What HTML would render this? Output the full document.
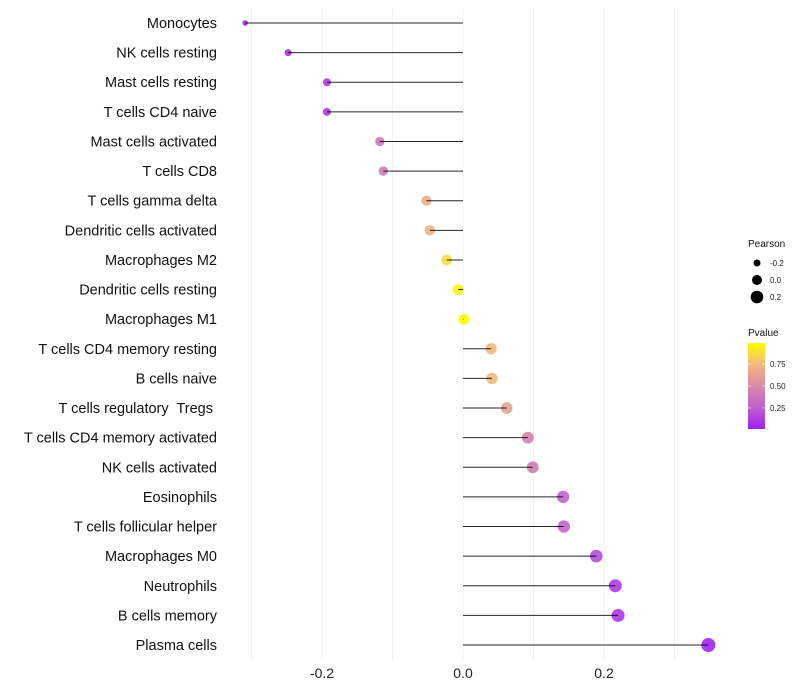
<!DOCTYPE html>
<html><head><meta charset="utf-8"><style>
html,body{margin:0;padding:0;background:#fff;}
svg{display:block;font-family:"Liberation Sans",sans-serif;}
text{white-space:pre;}
</style></head><body>
<svg id="chart" width="800" height="700"></svg>
<script>
const categories=["Monocytes","NK cells resting","Mast cells resting","T cells CD4 naive","Mast cells activated","T cells CD8","T cells gamma delta","Dendritic cells activated","Macrophages M2","Dendritic cells resting","Macrophages M1","T cells CD4 memory resting","B cells naive","T cells regulatory  Tregs ","T cells CD4 memory activated","NK cells activated","Eosinophils","T cells follicular helper","Macrophages M0","Neutrophils","B cells memory","Plasma cells"];
const pearson=[-0.309,-0.248,-0.193,-0.193,-0.118,-0.113,-0.052,-0.047,-0.023,-0.007,0.001,0.040,0.041,0.062,0.092,0.099,0.142,0.143,0.189,0.216,0.220,0.348];
const pvalues=[0.02,0.05,0.1,0.1,0.4,0.4,0.7,0.72,0.87,0.97,0.99,0.75,0.75,0.63,0.45,0.42,0.28,0.28,0.17,0.1,0.09,0.01];
const xTicks=[-0.2,0.0,0.2];
const xTickLabels=["-0.2","0.0","0.2"];
const sizeLegend=[-0.2,0.0,0.2];
const colorTicks=[0.25,0.5,0.75];

const NS="http://www.w3.org/2000/svg";
const svg=document.getElementById('chart');
function mk(t,a,p){const e=document.createElementNS(NS,t);for(const k in a)e.setAttribute(k,a[k]);(p||svg).appendChild(e);return e;}
const xs=v=>463+v*705;
const ys=i=>23+i*(622/21);
const rs=v=>Math.sqrt(Math.max(4,30+(v<0?72:55)*v));
const stops=[[0,[160,32,240]],[0.25,[192,96,208]],[0.5,[216,138,168]],[0.75,[240,184,128]],[1,[255,255,0]]];
function col(p){for(let i=1;i<stops.length;i++){if(p<=stops[i][0]){const a=stops[i-1],b=stops[i],t=(p-a[0])/(b[0]-a[0]);const c=a[1].map((v,k)=>Math.round(v+(b[1][k]-v)*t));return `rgb(${c})`;}}return 'rgb(255,255,0)';}

[-0.3,-0.2,-0.1,0,0.1,0.2,0.3].forEach(v=>{
  const g=mk('line',{x1:xs(v),x2:xs(v),y1:8,y2:660,stroke:'#f0f0f0','stroke-width':1});
  
  
});
xTicks.forEach((v,i)=>{
  const t=mk('text',{x:xs(v),y:678,'text-anchor':'middle','font-size':14,fill:'#222'});
  t.textContent=xTickLabels[i];
  
  
});
categories.forEach((c,i)=>{
  const y=ys(i);
  const l=mk('text',{x:217,y:y+5,'text-anchor':'end','font-size':14.5,fill:'#111'});
  l.textContent=c;
  
  
  const d=mk('circle',{cx:xs(pearson[i]),cy:y,r:rs(pearson[i]),fill:col(pvalues[i]),'fill-opacity':0.9});
  
  
  const s2=mk('line',{x1:xs(0),x2:xs(pearson[i]),y1:y,y2:y,stroke:'#000','stroke-width':1,'stroke-opacity':0.85});
  
  
});
const lt=mk('text',{x:748,y:247,'font-size':10,fill:'#111'});lt.textContent='Pearson';


sizeLegend.forEach((v,i)=>{
  const y=263+i*17;
  const c=mk('circle',{cx:757,cy:y,r:[3.5,5,6.3][i],fill:'#000'});
  
  
  const t=mk('text',{x:770,y:y+3,'font-size':8,fill:'#222'});t.textContent=v.toFixed(1);
  
  
});
const ct=mk('text',{x:748,y:336,'font-size':10,fill:'#111'});ct.textContent='Pvalue';


const defs=mk('defs',{});
const gr=mk('linearGradient',{id:'pg',x1:0,y1:1,x2:0,y2:0},defs);
stops.forEach(s=>mk('stop',{offset:s[0],'stop-color':`rgb(${s[1]})`},gr));
const bar=mk('rect',{x:748,y:343,width:17,height:86,fill:'url(#pg)'});


colorTicks.forEach(v=>{
  const y=429-(v-0.01)/0.98*86;
  mk('line',{x1:748,x2:751,y1:y,y2:y,stroke:'#fff','stroke-opacity':0.6});
  mk('line',{x1:762,x2:765,y1:y,y2:y,stroke:'#fff','stroke-opacity':0.6});
  const t=mk('text',{x:770,y:y+3,'font-size':8,fill:'#222'});t.textContent=v.toFixed(2);
  
  
});
</script>
</body></html>
